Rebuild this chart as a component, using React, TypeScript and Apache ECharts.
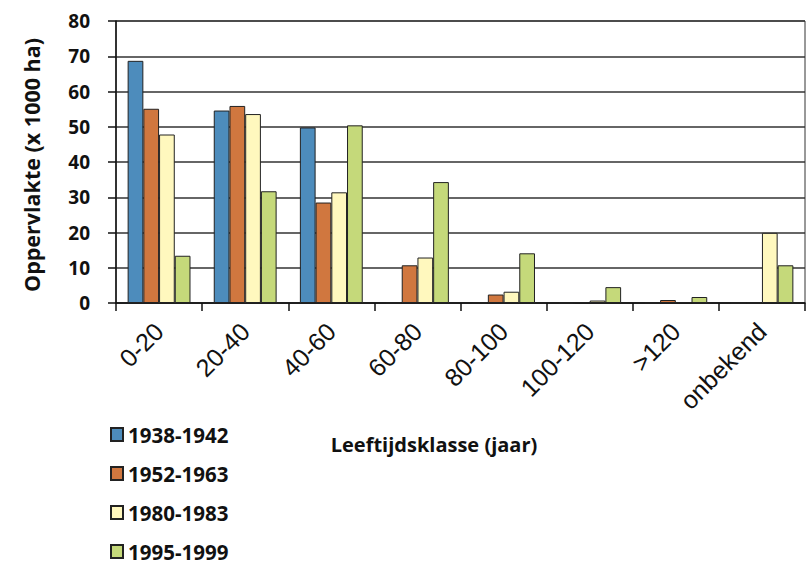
import React, { useEffect, useRef } from "react";
import * as echarts from "echarts";

const categories = ["0-20", "20-40", "40-60", "60-80", "80-100", "100-120", ">120", "onbekend"];
const seriesNames = ["1938-1942", "1952-1963", "1980-1983", "1995-1999"];
const s1938 = [68.7, 54.6, 49.8, 0, 0, 0, 0, 0];
const s1952 = [55.1, 55.9, 28.5, 10.7, 2.4, 0.2, 0.85, 0];
const s1980 = [47.8, 53.6, 31.4, 12.9, 3.2, 0.7, 0.2, 19.9];
const s1995 = [13.4, 31.7, 50.4, 34.3, 14.1, 4.5, 1.7, 10.7];
const colors = ["#4d8cbc", "#d0773f", "#fff8be", "#c5d97a"];
const yTicks = [0, 10, 20, 30, 40, 50, 60, 70, 80];

export default function App() {
  const ref = useRef<HTMLDivElement>(null);
  useEffect(() => {
    if (!ref.current) return;
    const chart = echarts.init(ref.current, undefined, { renderer: "svg" });
    const values = [s1938, s1952, s1980, s1995];
    chart.setOption({
      animation: false,
      backgroundColor: "#ffffff",
      grid: {
        left: 116,
        right: 4,
        top: 21,
        bottom: 260,
        show: true,
        borderColor: "#333",
        borderWidth: 1,
      },
      legend: {
        orient: "vertical",
        left: 110,
        top: 424,
        height: 139,
        padding: 0,
        itemWidth: 12,
        itemHeight: 13,
        itemGap: 18,
        icon: "rect",
        textStyle: {
          fontFamily: "Open Sans",
          fontWeight: "bold",
          fontSize: 20.5,
          lineHeight: 20,
          color: "#111",
        },
        data: seriesNames,
      },
      xAxis: {
        type: "category",
        data: categories,
        axisLine: { lineStyle: { color: "#111", width: 1.5 } },
        axisTick: { show: true, length: 8, lineStyle: { color: "#111", width: 1.5 } },
        axisLabel: {
          rotate: 45,
          fontFamily: "Liberation Sans",
          fontSize: 25,
          color: "#111",
          margin: 24,
          interval: 0,
        },
      },
      yAxis: {
        type: "value",
        min: yTicks[0],
        max: yTicks[yTicks.length - 1],
        interval: 10,
        axisLine: { show: true, lineStyle: { color: "#111", width: 1.5 } },
        axisTick: { show: true, length: 8, lineStyle: { color: "#111", width: 1.5 } },
        axisLabel: {
          fontFamily: "Open Sans",
          fontWeight: "bold",
          fontSize: 19,
          color: "#111",
          margin: 26,
        },
        splitLine: { lineStyle: { color: "#333", width: 1.5 } },
      },
      graphic: [
        {
          type: "text",
          x: 31,
          y: 165,
          rotation: Math.PI / 2,
          style: {
            text: "Oppervlakte (x 1000 ha)",
            fontFamily: "Open Sans",
            fontWeight: "bold",
            fontSize: 21.5,
            fill: "#111",
            align: "center",
            verticalAlign: "middle",
          },
        },
        {
          type: "text",
          x: 434,
          y: 444,
          style: {
            text: "Leeftijdsklasse (jaar)",
            fontFamily: "Open Sans",
            fontWeight: "bold",
            fontSize: 20,
            fill: "#111",
            align: "center",
            verticalAlign: "middle",
          },
        },
      ],
      series: seriesNames.map((name, i) => ({
        name,
        type: "bar",
        data: values[i],
        barGap: "0%",
        barCategoryGap: "27%",
        itemStyle: { color: colors[i], borderColor: "#222", borderWidth: 1 },
      })),
    });
    return () => chart.dispose();
  }, []);
  return <div ref={ref} style={{ width: 809, height: 563, position: "absolute", left: 0, top: 0 }} />;
}
